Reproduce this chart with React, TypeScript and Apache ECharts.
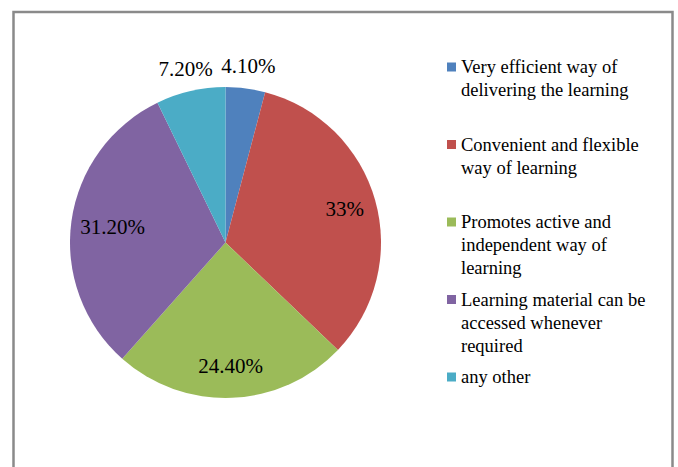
import React, { useEffect, useRef } from "react";
import * as echarts from "echarts";

const categories = [
  "Very efficient way of delivering the learning",
  "Convenient and flexible way of learning",
  "Promotes active and independent way of learning",
  "Learning material can be accessed whenever required",
  "any other",
];
const legendLines = [
  ["Very efficient way of", "delivering the learning"],
  ["Convenient and flexible", "way of learning"],
  ["Promotes active and", "independent way of", "learning"],
  ["Learning material can be", "accessed whenever", "required"],
  ["any other"],
];
const values = [4.1, 33, 24.4, 31.2, 7.2];
const valueLabels = ["4.10%", "33%", "24.40%", "31.20%", "7.20%"];
// which label ring each slice's label sits on
const labelRing = ["outer", "inner", "inner", "innerNear", "outer"];
const colors = ["#4F81BD", "#C0504D", "#9BBB59", "#8064A2", "#4BACC6"];

const FONT = "Liberation Serif";

export default function App() {
  const ref = useRef<HTMLDivElement>(null);
  useEffect(() => {
    if (!ref.current) return;
    const chart = echarts.init(ref.current, undefined, { renderer: "svg" });
    const center = [225.5, 242.5];
    const lh = 23;
    const legendStart = 67;
    const legendStep = 77.5;

    const legends = categories.map((name, i) => {
      const n = legendLines[i].length;
      const iconCenter = legendStart + legendStep * i;
      const ts = {
        fontFamily: FONT,
        fontSize: 18.5,
        fontWeight: "normal",
        color: "#000",
        lineHeight: lh,
      };
      return {
        show: true,
        orient: "vertical",
        left: 447,
        top: iconCenter - ((2 * n - 1) * lh) / 2,
        padding: 0,
        itemWidth: 9,
        itemHeight: 9,
        icon: "rect",
        selectedMode: false,
        data: [{ name, itemStyle: { color: colors[i] }, textStyle: ts }],
        formatter: () =>
          new Array(n - 1).fill(" ").concat(legendLines[i]).join("\n"),
        textStyle: ts,
      };
    });

    const overlay = (radius: number[], ring: string) => ({
      type: "pie",
      center,
      radius,
      startAngle: 90,
      clockwise: true,
      silent: true,
      legendHoverLink: false,
      emphasis: { disabled: true },
      itemStyle: { color: "rgba(0,0,0,0)", borderWidth: 0 },
      labelLine: { show: false },
      data: categories.map((name, i) => ({
        name,
        value: values[i],
        label: {
          show: labelRing[i] === ring,
          position: "inside",
          rotate: 0,
          formatter: valueLabels[i],
          fontFamily: FONT,
          fontSize: 21,
          color: "#000",
        },
      })),
    });

    chart.setOption({
      animation: false,
      backgroundColor: "#fff",
      textStyle: { fontFamily: FONT },
      legend: legends,
      graphic: [
        {
          type: "rect",
          shape: { x: 13.5, y: 12, width: 659, height: 480 },
          style: { fill: "none", stroke: "#8a8a8a", lineWidth: 2.5 },
          silent: true,
        },
      ],
      series: [
        {
          type: "pie",
          center,
          radius: 155.5,
          startAngle: 90,
          clockwise: true,
          label: { show: false },
          labelLine: { show: false },
          emphasis: { disabled: true },
          data: categories.map((name, i) => ({
            name,
            value: values[i],
            itemStyle: { color: colors[i], borderWidth: 0 },
          })),
        },
        overlay([86, 156], "inner"),
        overlay([66, 156], "innerNear"),
        overlay([161, 189], "outer"),
      ],
    });
    return () => chart.dispose();
  }, []);
  return (
    <div
      ref={ref}
      style={{ position: "absolute", left: 0, top: 0, width: 678, height: 467 }}
    />
  );
}
